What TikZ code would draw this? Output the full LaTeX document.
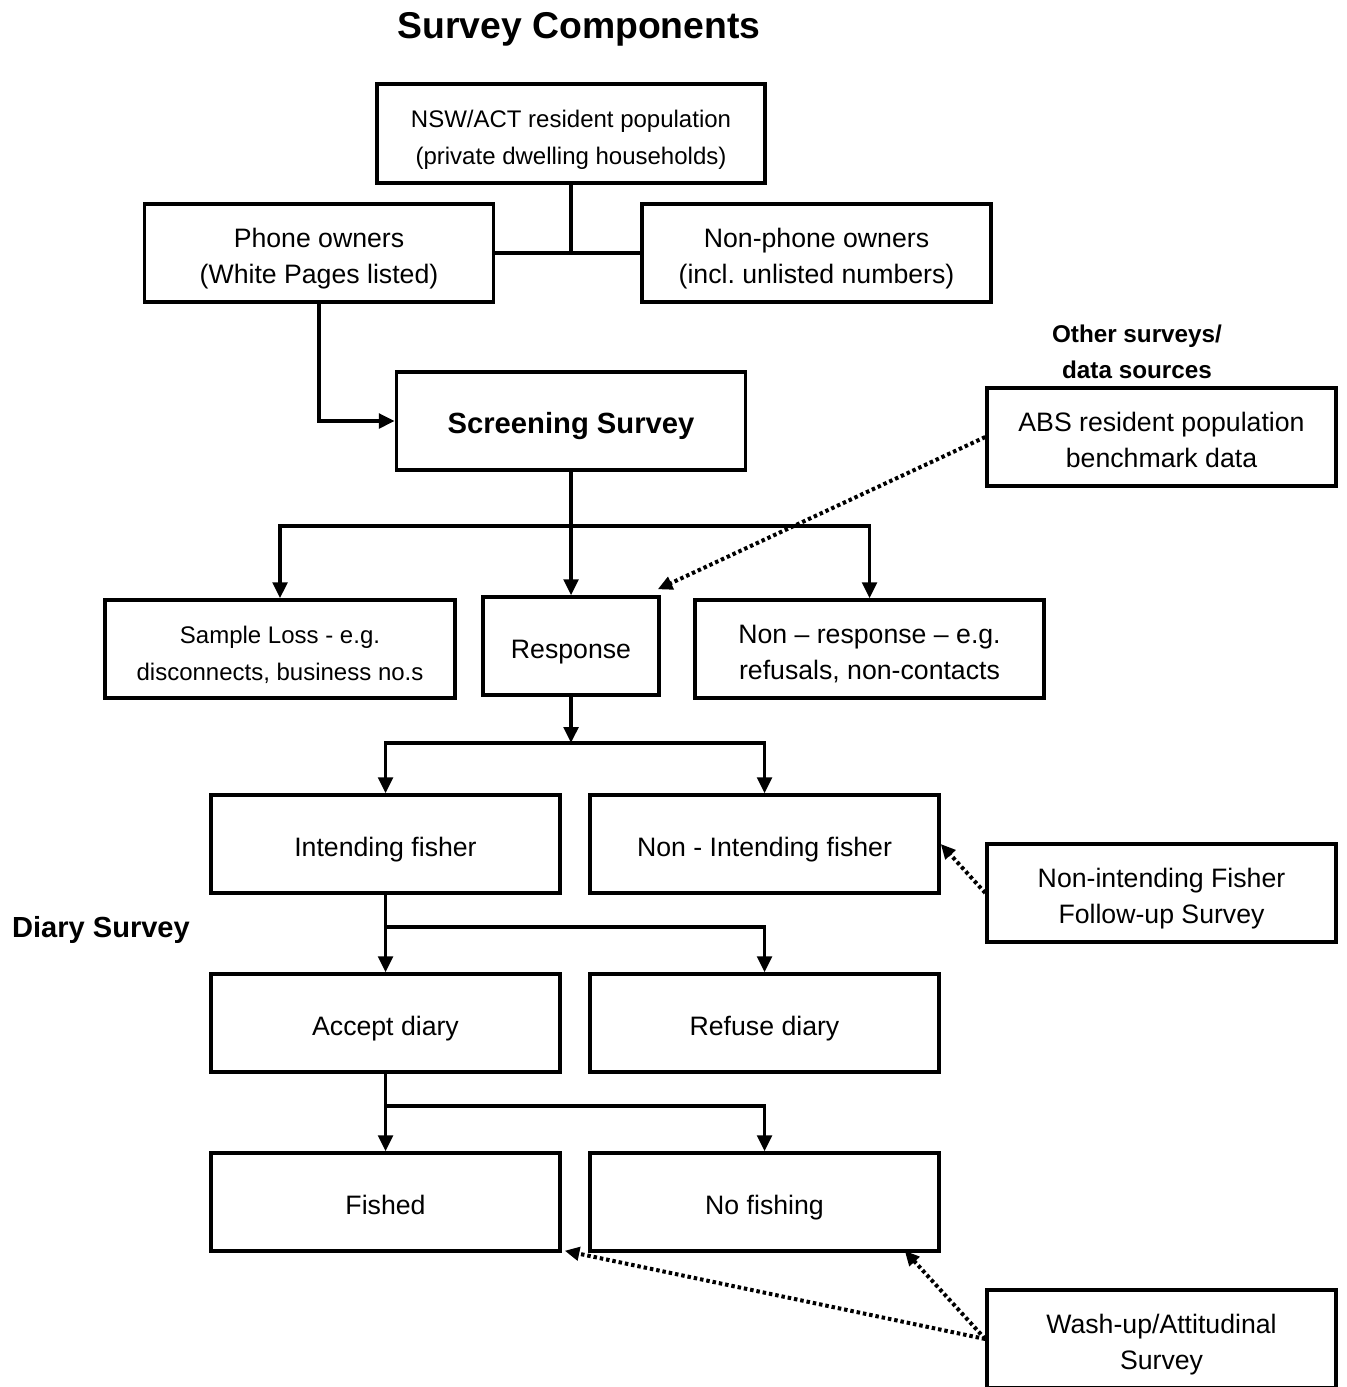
\documentclass[tikz,border=0pt]{standalone}
\usepackage{fontspec}
\setmainfont{Liberation Sans}
\usetikzlibrary{arrows.meta}
\frenchspacing
\newcommand\bxt[1]{\raisebox{-4pt}[\height][\depth]{\begin{tabular}{@{}c@{}}#1\end{tabular}}}
\begin{document}
\begin{tikzpicture}[x=0.75pt,y=-0.75pt,
  box/.style={draw, line width=2.6pt, minimum width=261.75pt, minimum height=73.5pt,
    align=center, inner sep=0pt, font=\fontsize{20}{27}\selectfont},
  smallfont/.style={font=\fontsize{18}{27.5}\selectfont},
  conn/.style={line width=2.6pt},
  arr/.style={conn, -{Triangle[length=12pt,width=11pt]}},
  dotarr/.style={line width=3pt, dash pattern=on 2.6pt off 2.2pt, -{Triangle[length=11pt,width=10pt]}},
  lbl/.style={align=center, inner sep=0pt}]
\useasboundingbox (0,0) rectangle (1346,1387);

% headings
\node[lbl, font=\fontsize{28}{34}\selectfont\bfseries] (title) at (579,29) {Survey Components};
\node[lbl, font=\fontsize{18.2}{27}\selectfont\bfseries] (other) at (1137,352) {Other surveys/\\data sources};
\node[lbl, font=\fontsize{21.8}{27}\selectfont\bfseries] (diary) at (101,930) {Diary Survey};

% boxes
\node[box, smallfont, minimum width=291pt, minimum height=74.25pt] (nsw) at (571,133.5) {\bxt{NSW/ACT resident population\\(private dwelling households)}};
\node[box] (phone) at (319,253) {\bxt{Phone owners\\(White Pages listed)}};
\node[box] (nonphone) at (816.5,253) {\bxt{Non-phone owners\\(incl. unlisted numbers)}};
\node[box, font=\fontsize{21.9}{27}\selectfont\bfseries] (screen) at (571,421) {\bxt{Screening Survey}};
\node[box] (abs) at (1161.5,437) {\bxt{ABS resident population\\benchmark data}};
\node[box, smallfont, minimum width=262.5pt] (loss) at (280,649) {\bxt{Sample Loss - e.g.\\disconnects, business no.s}};
\node[box, minimum width=132pt] (resp) at (571,646) {\bxt{Response}};
\node[box] (nonresp) at (869.5,649) {\bxt{Non – response – e.g.\\refusals, non-contacts}};
\node[box] (intend) at (385.5,844) {\bxt{Intending fisher}};
\node[box] (nonintend) at (764.5,844) {\bxt{Non - Intending fisher}};
\node[box] (follow) at (1161.5,893) {\bxt{Non-intending Fisher\\Follow-up Survey}};
\node[box] (accept) at (385.5,1023) {\bxt{Accept diary}};
\node[box] (refuse) at (764.5,1023) {\bxt{Refuse diary}};
\node[box] (fished) at (385.5,1202) {\bxt{Fished}};
\node[box] (nofish) at (764.5,1202) {\bxt{No fishing}};
\node[box] (wash) at (1161.5,1339) {\bxt{Wash-up/Attitudinal\\Survey}};

% top tree
\draw[conn] (nsw.south) -- (nsw.south |- phone.east);
\draw[conn] (phone.east) -- (nonphone.west);
\draw[arr] (phone.south) |- (screen.west);

% screening split
\coordinate (j1) at (571,526);
\draw[arr] (screen.south) -- (resp.north);
\draw[arr] (j1) -| (loss.north);
\draw[arr] (j1) -| (nonresp.north);

% response split
\coordinate (j2) at (571,743);
\draw[arr] (resp.south) -- (j2);
\draw[arr] (j2) -| (intend.north);
\draw[arr] (j2) -| (nonintend.north);

% intending split
\coordinate (j3) at (385.5,927);
\draw[arr] (intend.south) -- (accept.north);
\draw[arr] (j3) -| (refuse.north);

% accept split
\coordinate (j4) at (385.5,1106);
\draw[arr] (accept.south) -- (fished.north);
\draw[arr] (j4) -| (nofish.north);

% dotted links
\draw[dotarr] (abs.west) -- ([shift={(-3,-6)}]resp.north east);
\draw[dotarr] (follow.west) -- (nonintend.east);
\draw[dotarr] (wash.west) -- ([shift={(3,-2)}]fished.south east);
\draw[dotarr] (wash.west) -- ([shift={(-36,-2)}]nofish.south east);
\end{tikzpicture}
\end{document}
